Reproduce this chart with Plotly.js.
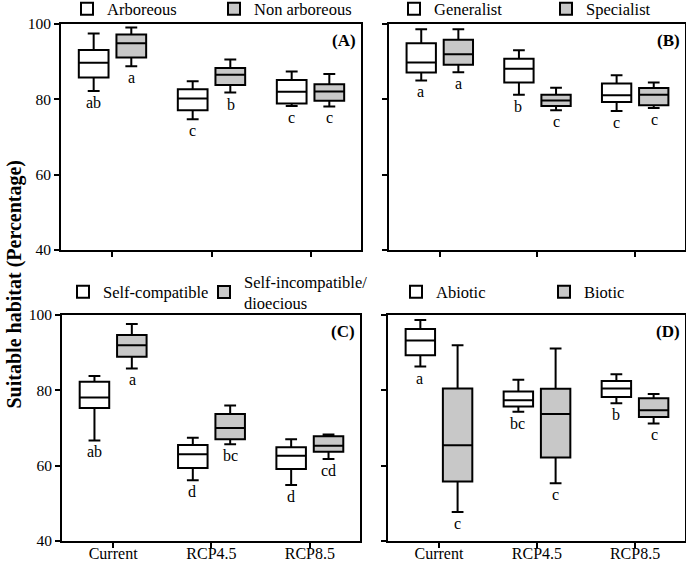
<!DOCTYPE html>
<html>
<head>
<meta charset="utf-8">
<script src="https://cdn.plot.ly/plotly-3.0.1.min.js"></script>
<style>html,body{margin:0;padding:0;background:#fff;}#chart{width:686px;height:561px;}</style>
</head>
<body>
<div id="chart"></div>
<script>
// ---------- data ----------
const categories = ['Current', 'RCP4.5', 'RCP8.5'];
const yTicks = [40, 60, 80, 100];

// Panel A
const arborName = 'Arboreous';
const arborQ1 = [85.8, 77.1, 78.9];
const arborMed = [89.7, 80.2, 82.0];
const arborQ3 = [93.1, 82.7, 85.1];
const arborLo = [82.2, 74.7, 78.2];
const arborHi = [97.5, 84.8, 87.4];
const arborLetters = ['ab', 'c', 'c'];
const nonArborName = 'Non arboreous';
const nonArborQ1 = [91.1, 83.8, 79.6];
const nonArborMed = [94.9, 86.5, 82.1];
const nonArborQ3 = [97.2, 88.3, 84.0];
const nonArborLo = [88.8, 81.8, 78.1];
const nonArborHi = [99.1, 90.6, 86.7];
const nonArborLetters = ['a', 'b', 'c'];

// Panel B
const generalName = 'Generalist';
const generalQ1 = [87.1, 84.5, 79.3];
const generalMed = [89.8, 88.1, 81.1];
const generalQ3 = [94.9, 90.8, 84.2];
const generalLo = [85.0, 81.2, 76.9];
const generalHi = [98.6, 93.0, 86.4];
const generalLetters = ['a', 'b', 'c'];
const specialName = 'Specialist';
const specialQ1 = [89.2, 78.2, 78.4];
const specialMed = [92.0, 79.7, 81.2];
const specialQ3 = [95.8, 81.2, 83.0];
const specialLo = [87.2, 77.1, 77.7];
const specialHi = [98.6, 83.1, 84.5];
const specialLetters = ['a', 'c', 'c'];

// Panel C
const selfCompName = 'Self-compatible';
const selfCompQ1 = [75.3, 59.4, 59.1];
const selfCompMed = [78.1, 63.0, 62.6];
const selfCompQ3 = [82.3, 65.5, 64.9];
const selfCompLo = [66.7, 56.1, 54.9];
const selfCompHi = [83.8, 67.4, 67.0];
const selfCompLetters = ['ab', 'd', 'd'];
const selfIncName = 'Self-incompatible/<br>dioecious';
const selfIncQ1 = [88.9, 67.0, 63.7];
const selfIncMed = [92.0, 70.0, 65.3];
const selfIncQ3 = [94.7, 73.7, 67.8];
const selfIncLo = [85.8, 65.7, 61.8];
const selfIncHi = [97.6, 76.0, 68.3];
const selfIncLetters = ['a', 'bc', 'cd'];

// Panel D
const abioticName = 'Abiotic';
const abioticQ1 = [89.3, 75.7, 78.2];
const abioticMed = [93.2, 77.4, 80.5];
const abioticQ3 = [96.3, 79.7, 82.5];
const abioticLo = [86.3, 74.3, 76.6];
const abioticHi = [98.7, 82.8, 84.3];
const abioticLetters = ['a', 'bc', 'b'];
const bioticName = 'Biotic';
const bioticQ1 = [55.8, 62.2, 72.9];
const bioticMed = [65.4, 73.7, 74.7];
const bioticQ3 = [80.5, 80.4, 77.9];
const bioticLo = [47.7, 55.3, 71.2];
const bioticHi = [92.0, 91.1, 79.0];
const bioticLetters = ['c', 'c', 'c'];

const panelLabels = ['(A)', '(B)', '(C)', '(D)'];
const yTitle = 'Suitable habitat (Percentage)';

// ---------- build ----------
const FONT = 'Liberation Serif';
const W = 686, H = 561;
const px = v => v / W;
const py = v => (H - v) / H;

const panels = [
  {ax: '', label: panelLabels[0], xd: [61, 361], yd: [24, 250],
   series: [
     {name: arborName, q1: arborQ1, med: arborMed, q3: arborQ3, lo: arborLo, hi: arborHi, letters: arborLetters},
     {name: nonArborName, q1: nonArborQ1, med: nonArborMed, q3: nonArborQ3, lo: nonArborLo, hi: nonArborHi, letters: nonArborLetters}],
   legendX: [67, 214], legendY: 9, xlabels: false, ylabels: true},
  {ax: '2', label: panelLabels[1], xd: [389, 685], yd: [24, 250],
   series: [
     {name: generalName, q1: generalQ1, med: generalMed, q3: generalQ3, lo: generalLo, hi: generalHi, letters: generalLetters},
     {name: specialName, q1: specialQ1, med: specialMed, q3: specialQ3, lo: specialLo, hi: specialHi, letters: specialLetters}],
   legendX: [394, 546], legendY: 9, xlabels: false, ylabels: false},
  {ax: '3', label: panelLabels[2], xd: [62, 360], yd: [315, 541],
   series: [
     {name: selfCompName, q1: selfCompQ1, med: selfCompMed, q3: selfCompQ3, lo: selfCompLo, hi: selfCompHi, letters: selfCompLetters},
     {name: selfIncName, q1: selfIncQ1, med: selfIncMed, q3: selfIncQ3, lo: selfIncLo, hi: selfIncHi, letters: selfIncLetters}],
   legendX: [63, 204], legendY: 292, xlabels: true, ylabels: true},
  {ax: '4', label: panelLabels[3], xd: [388, 685], yd: [315, 541],
   series: [
     {name: abioticName, q1: abioticQ1, med: abioticMed, q3: abioticQ3, lo: abioticLo, hi: abioticHi, letters: abioticLetters},
     {name: bioticName, q1: bioticQ1, med: bioticMed, q3: bioticQ3, lo: bioticLo, hi: bioticHi, letters: bioticLetters}],
   legendX: [396, 544], legendY: 292, xlabels: true, ylabels: false}
];

const fills = ['#ffffff', '#c8c8c8'];
const groupShift = [-19, 19];

const traces = [];
const annotations = [];
const layout = {
  width: W, height: H,
  margin: {l: 0, r: 0, t: 0, b: 0, autoexpand: false},
  paper_bgcolor: '#ffffff', plot_bgcolor: '#ffffff',
  boxmode: 'group', boxgap: 0.24, boxgroupgap: 0.21,
  font: {family: FONT, color: '#000', size: 16},
  showlegend: true
};

let legendIdx = 0;
panels.forEach((p, pi) => {
  const xa = 'xaxis' + p.ax, ya = 'yaxis' + p.ax;
  const xr = 'x' + p.ax, yr = 'y' + p.ax;
  layout[xa] = {
    domain: [px(p.xd[0]), px(p.xd[1])], anchor: yr,
    type: 'category', categoryorder: 'array', categoryarray: categories,
    range: [-0.52, 2.51], showline: true, linewidth: 2, linecolor: '#000', mirror: true,
    ticks: 'outside', ticklen: 5, tickwidth: 2, tickcolor: '#000',
    showticklabels: p.xlabels, tickfont: {family: FONT, size: 16, color: '#000'},
    ticklabelstandoff: -8, automargin: false,
    showgrid: false, zeroline: false, fixedrange: true
  };
  layout[ya] = {
    domain: [py(p.yd[1]), py(p.yd[0])], anchor: xr,
    range: [40, 100], tickvals: yTicks, showline: true, linewidth: 2, linecolor: '#000', mirror: true,
    ticks: 'outside', ticklen: 5, tickwidth: 2, tickcolor: '#000',
    showticklabels: p.ylabels, tickfont: {family: FONT, size: 15.5, color: '#000'},
    automargin: false,
    showgrid: false, zeroline: false, fixedrange: true
  };
  p.series.forEach((s, si) => {
    legendIdx++;
    const lname = legendIdx === 1 ? 'legend' : 'legend' + legendIdx;
    traces.push({
      type: 'box', name: s.name, x: categories,
      q1: s.q1, median: s.med, q3: s.q3, lowerfence: s.lo, upperfence: s.hi,
      xaxis: xr, yaxis: yr, legend: lname, offsetgroup: String(si),
      fillcolor: fills[si], line: {color: '#000', width: 2},
      whiskerwidth: 0.4, boxpoints: false, hoverinfo: 'skip'
    });
    layout[lname] = {
      x: px(p.legendX[si]), xanchor: 'left', y: py(p.legendY), yanchor: 'middle',
      bgcolor: 'rgba(0,0,0,0)', borderwidth: 0, valign: 'middle',
      font: {family: FONT, size: 16.5, color: '#000'}, tracegroupgap: 0
    };
    categories.forEach((c, ci) => {
      annotations.push({
        xref: xr, yref: yr, x: c, y: s.lo[ci], xshift: groupShift[si], yshift: -1,
        text: s.letters[ci], showarrow: false, xanchor: 'center', yanchor: 'top',
        font: {family: FONT, size: 16, color: '#000'}
      });
    });
  });
  annotations.push({
    xref: xr + ' domain', yref: yr + ' domain', x: 1, y: 1, xshift: -3, yshift: -5,
    xanchor: 'right', yanchor: 'top', showarrow: false, text: '<b>' + p.label + '</b>',
    font: {family: FONT, size: 17, color: '#000'}
  });
});

annotations.push({
  xref: 'paper', yref: 'paper', x: 0, y: py(284), xanchor: 'left', yanchor: 'middle',
  textangle: -90, showarrow: false, text: '<b>' + yTitle + '</b>',
  font: {family: FONT, size: 20, color: '#000'}
});
layout.annotations = annotations;

Plotly.newPlot('chart', traces, layout, {displayModeBar: false, staticPlot: true});
</script>
</body>
</html>
